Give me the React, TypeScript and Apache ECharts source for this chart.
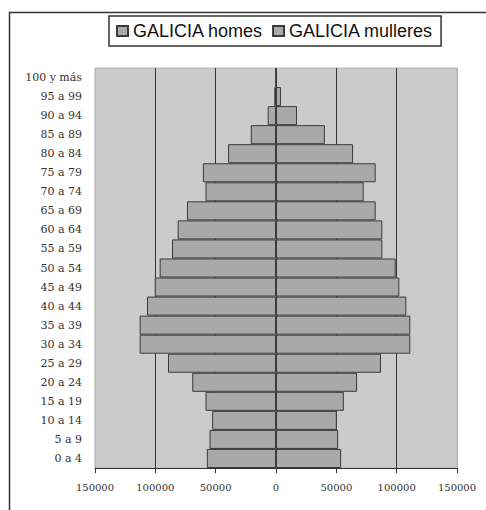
import React, { useEffect, useRef } from "react";
import * as echarts from "echarts";

const categories = [
  "0 a 4", "5 a 9", "10 a 14", "15 a 19", "20 a 24", "25 a 29", "30 a 34",
  "35 a 39", "40 a 44", "45 a 49", "50 a 54", "55 a 59", "60 a 64", "65 a 69",
  "70 a 74", "75 a 79", "80 a 84", "85 a 89", "90 a 94", "95 a 99", "100 y más",
];
const homes = [
  57300, 55100, 52900, 58400, 69400, 89500, 113000, 113000, 106900, 100500,
  96400, 86200, 81500, 73800, 58400, 60600, 39700, 20900, 6900, 1400, 200,
];
const mulleres = [
  54000, 51500, 50400, 56200, 67200, 87000, 111300, 111300, 108000, 102200,
  99200, 88100, 88100, 82600, 72700, 82600, 63900, 40500, 17400, 4100, 600,
];
const seriesNames = ["GALICIA homes", "GALICIA mulleres"];

export default function App() {
  const ref = useRef<HTMLDivElement>(null);
  useEffect(() => {
    if (!ref.current) return;
    const chart = echarts.init(ref.current, null, { renderer: "svg" });
    const barStyle = { color: "#a9a9a9", borderColor: "#3a3a3a", borderWidth: 1 };
    chart.setOption({
      animation: false,
      backgroundColor: "#ffffff",
      graphic: [
        {
          type: "rect",
          shape: { x: 9.5, y: 12.5, width: 520, height: 520 },
          style: { fill: "none", stroke: "#333", lineWidth: 1.5 },
          silent: true,
          z: -10,
        },
      ],
      legend: {
        left: 109,
        top: 16,
        padding: [6, 8, 6, 7],
        borderColor: "#333",
        borderWidth: 1.5,
        itemWidth: 11,
        itemHeight: 10,
        itemGap: 9,
        icon: "rect",
        textStyle: { fontFamily: "Liberation Sans, Arial", fontSize: 18, color: "#111" },
        data: seriesNames,
      },
      grid: {
        left: 95,
        right: 29,
        top: 68,
        bottom: 42,
        show: true,
        backgroundColor: "#cbcbcb",
        borderColor: "#b5b5b5",
        borderWidth: 1,
      },
      xAxis: {
        type: "value",
        min: -150000,
        max: 150000,
        interval: 50000,
        axisLine: { show: true, lineStyle: { color: "#333", width: 1 } },
        axisTick: { show: true, length: 5, lineStyle: { color: "#333" } },
        axisLabel: {
          margin: 14,
          fontFamily: "DejaVu Serif",
          fontSize: 10,
          color: "#333",
          formatter: (v: number) => String(Math.abs(v)),
        },
        splitLine: {
          show: true,
          lineStyle: {
            color: ["#b5b5b5", "#333", "#333", "#222", "#333", "#333", "#b5b5b5"],
            width: 1,
          },
        },
      },
      yAxis: {
        type: "category",
        data: categories,
        axisLine: { show: false },
        axisTick: { show: false },
        axisLabel: {
          margin: 13,
          fontFamily: "DejaVu Serif",
          fontSize: 11,
          color: "#333",
        },
      },
      series: [
        {
          name: seriesNames[0],
          type: "bar",
          stack: "total",
          barCategoryGap: 0,
          data: homes.map((v) => -v),
          itemStyle: barStyle,
        },
        {
          name: seriesNames[1],
          type: "bar",
          stack: "total",
          barCategoryGap: 0,
          data: mulleres,
          itemStyle: barStyle,
        },
      ],
    });
    return () => chart.dispose();
  }, []);
  return <div ref={ref} style={{ width: 486, height: 510, position: "absolute", left: 0, top: 0 }} />;
}
